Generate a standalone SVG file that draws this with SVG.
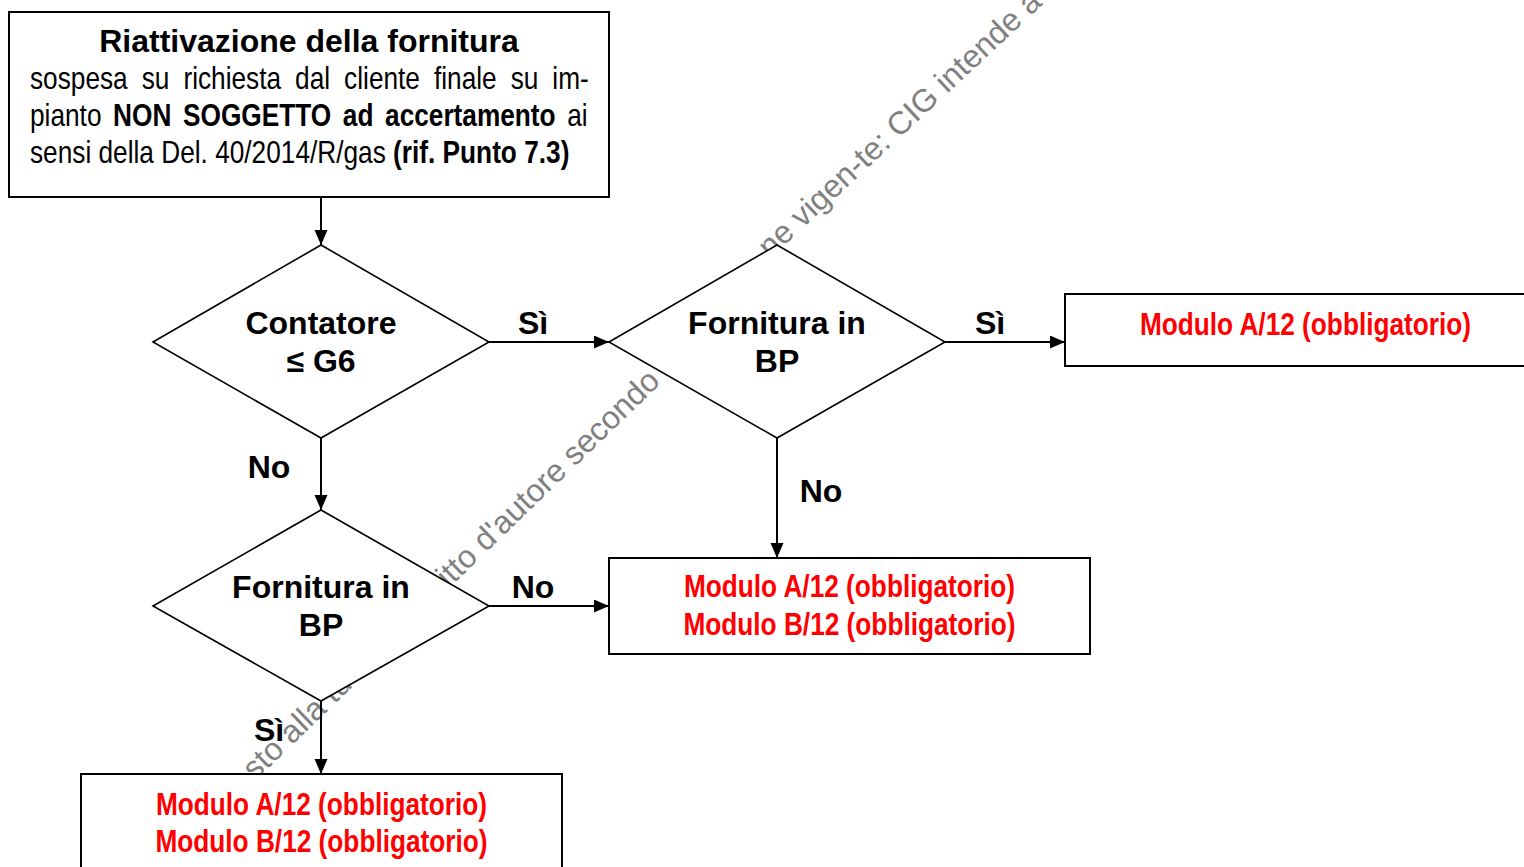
<svg xmlns="http://www.w3.org/2000/svg" width="1524" height="867" viewBox="0 0 1524 867">
<style>
  .box{fill:#fff;stroke:#000;stroke-width:2}
  .dia{fill:#fff;stroke:#000;stroke-width:1.6}
  .con{fill:none;stroke:#000;stroke-width:2}
  .b{font-family:"Liberation Sans",Arial,sans-serif;font-weight:bold;font-size:32px;fill:#000}
  .r{font-family:"Liberation Sans",Arial,sans-serif;font-size:32px;fill:#000}
  .red{font-family:"Liberation Sans",Arial,sans-serif;font-weight:bold;font-size:32px;fill:#ff0000;text-anchor:middle}
  .mid{text-anchor:middle}
  .wm{font-family:"Liberation Sans",Arial,sans-serif;font-size:32px;fill:#808080}
</style>
<defs>
  <marker id="ah" markerUnits="userSpaceOnUse" markerWidth="16" markerHeight="14" refX="15" refY="6.5" orient="auto">
    <path d="M0,0 L15,6.5 L0,13 Z" fill="#000"/>
  </marker>
</defs>
<rect width="1524" height="867" fill="#fff"/>

<g id="watermark">
  <text class="wm" transform="translate(255,781) rotate(-44)">sto alla tu</text>
  <text class="wm" transform="translate(441,596) rotate(-44)">ritto d'autore secondo</text>
  <text class="wm" transform="translate(770,259) rotate(-43)">ne vigen-te: CIG intende a</text>
</g>

<g id="n-start">
  <rect class="box" x="9" y="12" width="600" height="185"/>
  <text class="b mid" x="309" y="52">Riattivazione della fornitura</text>
  <g transform="translate(30,0) scale(0.82,1)">
    <text class="r" x="0" y="89" word-spacing="8.2">sospesa su richiesta dal cliente finale su im-</text>
    <text class="r" x="0" y="126" word-spacing="5.3">pianto <tspan font-weight="bold">NON SOGGETTO ad accertamento</tspan> ai</text>
    <text class="r" x="0" y="163">sensi della Del. 40/2014/R/gas <tspan font-weight="bold">(rif. Punto 7.3)</tspan></text>
  </g>
</g>

<g id="n-contatore">
  <polygon class="dia" points="153,342 321,245 489,342 321,438"/>
  <text class="b mid" x="321" y="334">Contatore</text>
  <text class="b mid" x="321" y="372">≤ G6</text>
</g>

<g id="n-bp1">
  <polygon class="dia" points="609,342 777,245 945,342 777,438"/>
  <text class="b mid" x="777" y="334">Fornitura in</text>
  <text class="b mid" x="777" y="372">BP</text>
</g>

<g id="n-bp2">
  <polygon class="dia" points="153,606 321,510 489,606 321,701"/>
  <text class="b mid" x="321" y="598">Fornitura in</text>
  <text class="b mid" x="321" y="636">BP</text>
</g>

<g id="n-a12">
  <rect class="box" x="1065" y="294" width="480" height="72"/>
  <text class="red" transform="translate(1305.5,335) scale(0.82,1)">Modulo A/12 (obbligatorio)</text>
</g>

<g id="n-ab12-right">
  <rect class="box" x="609" y="558" width="481" height="96"/>
  <text class="red" transform="translate(849.5,597) scale(0.82,1)">Modulo A/12 (obbligatorio)</text>
  <text class="red" transform="translate(849.5,635) scale(0.82,1)">Modulo B/12 (obbligatorio)</text>
</g>

<g id="n-ab12-bottom">
  <rect class="box" x="81" y="774" width="481" height="110"/>
  <text class="red" transform="translate(321.5,815) scale(0.82,1)">Modulo A/12 (obbligatorio)</text>
  <text class="red" transform="translate(321.5,852) scale(0.82,1)">Modulo B/12 (obbligatorio)</text>
</g>

<g id="connectors">
  <path class="con" d="M321,198 V245" marker-end="url(#ah)"/>
  <path class="con" d="M489,342 H609" marker-end="url(#ah)"/>
  <path class="con" d="M945,342 H1065" marker-end="url(#ah)"/>
  <path class="con" d="M777,438 V558" marker-end="url(#ah)"/>
  <path class="con" d="M321,438 V510" marker-end="url(#ah)"/>
  <path class="con" d="M489,606 H609" marker-end="url(#ah)"/>
  <path class="con" d="M321,701 V774" marker-end="url(#ah)"/>
  <text class="b mid" x="533" y="334">Sì</text>
  <text class="b mid" x="990" y="334">Sì</text>
  <text class="b mid" x="269" y="478">No</text>
  <text class="b mid" x="821" y="502">No</text>
  <text class="b mid" x="533" y="598">No</text>
  <text class="b mid" x="269" y="741">Sì</text>
</g>
</svg>
